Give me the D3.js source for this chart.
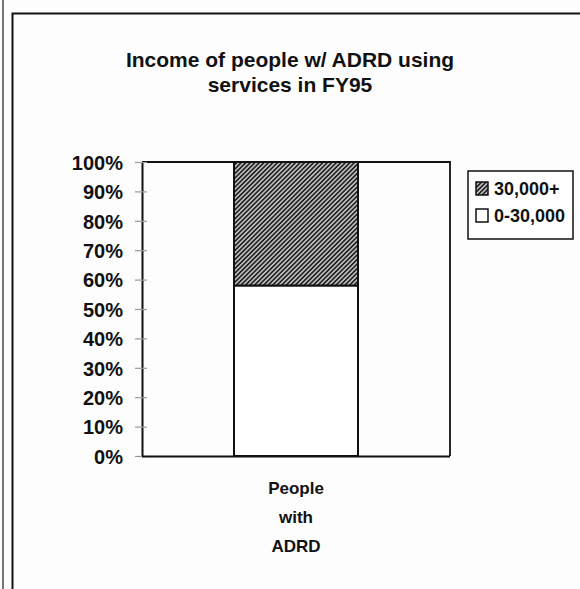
<!DOCTYPE html>
<html><head><meta charset="utf-8">
<script src="https://cdn.jsdelivr.net/npm/d3@7"></script>
<style>
html,body{margin:0;padding:0;background:#fdfdfd;}
svg{display:block;}
</style></head>
<body>
<svg id="chart" width="580" height="589"></svg>
<script>
// ---- data ----
const categories = ["People with ADRD"];
const categoryLines = [["People", "with", "ADRD"]];
const seriesNames = ["0-30,000", "30,000+"];
const lowIncome = [58];   // 0-30,000 (%)
const highIncome = [42];  // 30,000+ (%)
const yTicks = [0, 10, 20, 30, 40, 50, 60, 70, 80, 90, 100];
const legendOrder = ["30,000+", "0-30,000"];
const titleLines = ["Income of people w/ ADRD using", "services in FY95"];

// ---- layout ----
const svg = d3.select("#chart");
const plot = {left: 142, right: 450, top: 162, bottom: 456};
const font = "'Liberation Sans', Arial, Helvetica, sans-serif";

// pattern for hatched series
const defs = svg.append("defs");
const pat = defs.append("pattern").attr("id", "hatch")
  .attr("patternUnits", "userSpaceOnUse").attr("width", 3.2).attr("height", 3.2)
  .attr("patternTransform", "rotate(45)");
pat.append("rect").attr("width", 3.2).attr("height", 3.2).attr("fill", "#bdbdbd");
pat.append("rect").attr("x", 0).attr("width", 1.6).attr("height", 3.2).attr("fill", "#222");

// outer frame
svg.append("line").attr("x1", 3).attr("x2", 3).attr("y1", 0).attr("y2", 589)
  .attr("stroke", "#444").attr("stroke-width", 1.5);
svg.append("path").attr("d", "M12.5,589 V13.5 H580")
  .attr("fill", "none").attr("stroke", "#111").attr("stroke-width", 2);

// title
svg.append("text").attr("x", 290).attr("y", 67)
  .attr("text-anchor", "middle").attr("font-family", font)
  .attr("font-weight", "bold").attr("font-size", 21).attr("fill", "#111")
  .selectAll("tspan").data(titleLines).join("tspan")
  .attr("x", 290).attr("dy", (d, i) => i === 0 ? 0 : 25).text(d => d);

// scales
const xb = d3.scaleBand().domain(categories).range([plot.left, plot.right]).padding(0.6);
const y = d3.scaleLinear().domain([0, 100]).range([plot.bottom, plot.top]);

// stacked data
const table = categories.map((c, i) => ({cat: c, "0-30,000": lowIncome[i], "30,000+": highIncome[i]}));
const stack = d3.stack().keys(seriesNames)(table);
const fills = {"0-30,000": "#ffffff", "30,000+": "url(#hatch)"};

// plot frame (top and right)
svg.append("path")
  .attr("d", `M${plot.left},${plot.top} H${plot.right} V${plot.bottom}`)
  .attr("fill", "none").attr("stroke", "#111").attr("stroke-width", 1.8);

// bars
const barW = 124;
stack.forEach(s => {
  svg.append("g").selectAll("rect").data(s).join("rect")
    .attr("x", d => xb(d.data.cat) + xb.bandwidth() / 2 - barW / 2)
    .attr("width", barW)
    .attr("y", d => y(d[1]))
    .attr("height", d => y(d[0]) - y(d[1]))
    .attr("fill", fills[s.key])
    .attr("stroke", "#111").attr("stroke-width", 2);
});

// y axis
const yAxis = svg.append("g").attr("transform", `translate(${plot.left},0)`)
  .call(d3.axisLeft(y).tickValues(yTicks).tickFormat(d => d + "%").tickSize(0).tickPadding(19));
yAxis.select(".domain").attr("stroke", "#111").attr("stroke-width", 2);
yAxis.selectAll("text").attr("font-family", font).attr("font-weight", "bold")
  .attr("font-size", 20).attr("fill", "#111").attr("dy", "0.36em");
yAxis.selectAll(".tick").append("line").attr("x1", -7).attr("x2", 5)
  .attr("stroke", "#999").attr("stroke-width", 1.2);

// x axis
const xAxis = svg.append("g").attr("transform", `translate(0,${plot.bottom})`)
  .call(d3.axisBottom(xb).tickSize(0).tickFormat(""));
xAxis.select(".domain").attr("d", `M${plot.left},0.5H${plot.right}`)
  .attr("stroke", "#111").attr("stroke-width", 2);
xAxis.selectAll(".tick").each(function(d, i) {
  d3.select(this).select("text").remove();
  d3.select(this).append("text").attr("text-anchor", "middle")
    .attr("font-family", font).attr("font-size", 17).attr("fill", "#111")
    .attr("font-weight", "bold")
    .selectAll("tspan").data(categoryLines[i]).join("tspan")
    .attr("x", 0).attr("y", (t, j) => 38 + j * 29).text(t => t);
});

// legend
const lg = svg.append("g").attr("transform", "translate(468,171)");
lg.append("rect").attr("width", 105).attr("height", 68)
  .attr("fill", "#fff").attr("stroke", "#111").attr("stroke-width", 1.5);
const items = lg.selectAll("g.item").data(legendOrder).join("g")
  .attr("transform", (d, i) => `translate(8,${11 + i * 27})`);
items.append("rect").attr("width", 12).attr("height", 13)
  .attr("fill", d => fills[d]).attr("stroke", "#111").attr("stroke-width", 1.5);
items.append("text").attr("x", 18).attr("y", 13)
  .attr("font-family", font).attr("font-size", 18).attr("font-weight", "bold")
  .attr("fill", "#111").text(d => d);
</script>
</body></html>
